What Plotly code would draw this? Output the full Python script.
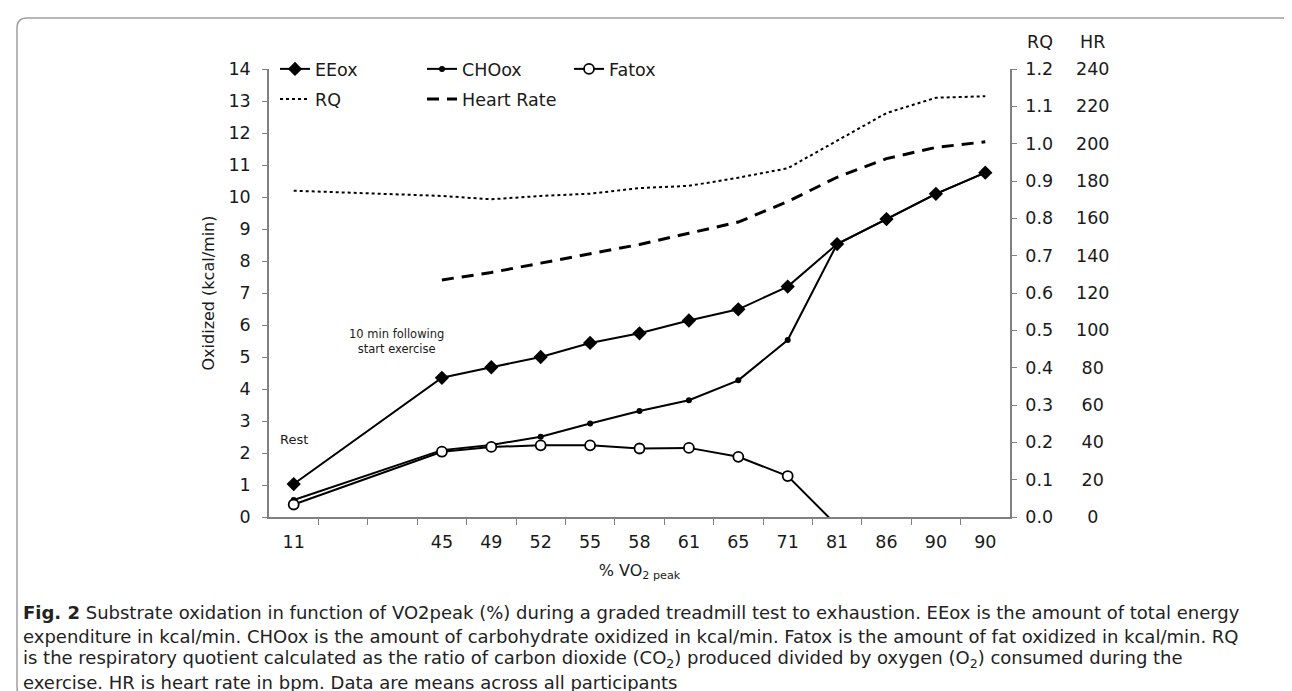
import plotly.graph_objects as go

# ---------------- data ----------------
x_labels = ["11", "45", "49", "52", "55", "58", "61", "65", "71", "81", "86", "90", "90"]
x_slots = [0, 3, 4, 5, 6, 7, 8, 9, 10, 11, 12, 13, 14]   # category slots (two empty slots after rest)
eeox = [1.03, 4.35, 4.68, 5.00, 5.44, 5.74, 6.14, 6.49, 7.20, 8.53, 9.31, 10.10, 10.76]
choox = [0.53, 2.09, 2.25, 2.51, 2.92, 3.31, 3.65, 4.27, 5.53, 8.53, 9.31, 10.10, 10.76]
fatox = [0.39, 2.04, 2.19, 2.24, 2.24, 2.14, 2.16, 1.88, 1.28, -0.27, None, None, None]
rq = [0.874, 0.860, 0.851, 0.860, 0.866, 0.881, 0.887, 0.909, 0.934, 1.007, 1.082, 1.123, 1.127]
hr = [None, 127, 131, 136, 141, 146, 152, 158, 169, 182, 192, 198, 201]

y_left_ticks = list(range(0, 15))
rq_ticks = [round(0.1 * i, 1) for i in range(13)]
hr_ticks = list(range(0, 241, 20))

caption_lines = [
    "<b>Fig. 2</b> Substrate oxidation in function of VO2peak (%) during a graded treadmill test to exhaustion. EEox is the amount of total energy",
    "expenditure in kcal/min. CHOox is the amount of carbohydrate oxidized in kcal/min. Fatox is the amount of fat oxidized in kcal/min. RQ",
    "is the respiratory quotient calculated as the ratio of carbon dioxide (CO<sub>2</sub>) produced divided by oxygen (O<sub>2</sub>) consumed during the",
    "exercise. HR is heart rate in bpm. Data are means across all participants",
]

# ---------------- geometry helpers (pixels -> paper) ----------------
W, H = 1292, 691
ML, MR, MT, MB = 261, 290, 61, 182
PW = W - ML - MR
PH = H - MT - MB


def px(xp):
    return (xp - ML) / PW


def py(yp):
    return (H - MB - yp) / PH


FONT = "DejaVu Sans"
TXT = "#1a1a1a"
AX = "#808080"

boundaries = [s + 0.5 for s in range(0, 14)]


# HR labels centred under the header: pad with figure/punctuation spaces
def hr_label(v):
    s = str(v)
    if len(s) == 1:
        return "\u2007" + s
    if len(s) == 2:
        return "\u2008" + s
    return s


fig = go.Figure()

fig.add_trace(go.Scatter(
    x=x_slots, y=eeox, name="EEox", mode="lines+markers",
    line=dict(color="black", width=2),
    marker=dict(symbol="diamond", size=11, color="black"),
    legend="legend", hoverinfo="skip"))
fig.add_trace(go.Scatter(
    x=x_slots, y=choox, name="CHOox", mode="lines+markers",
    line=dict(color="black", width=2),
    marker=dict(symbol="circle", size=6, color="black"),
    legend="legend", hoverinfo="skip"))
fig.add_trace(go.Scatter(
    x=x_slots, y=fatox, name="Fatox", mode="lines+markers",
    line=dict(color="black", width=2),
    marker=dict(symbol="circle", size=10, color="white", line=dict(color="black", width=1.8)),
    legend="legend", hoverinfo="skip", connectgaps=False))
fig.add_trace(go.Scatter(
    x=x_slots, y=rq, name="RQ", mode="lines", yaxis="y2",
    line=dict(color="black", width=2, dash="dot"),
    legend="legend2", hoverinfo="skip"))
fig.add_trace(go.Scatter(
    x=x_slots, y=hr, name="Heart Rate", mode="lines", yaxis="y3",
    line=dict(color="black", width=3, dash="12px,8px"),
    legend="legend2", hoverinfo="skip"))

tickfont = dict(family=FONT, size=17.5, color=TXT)

annotations = [
    dict(text="Rest", x=0.0, y=2.41, xref="x", yref="y", showarrow=False,
         xanchor="center", yanchor="middle",
         font=dict(family=FONT, size=13, color=TXT)),
    dict(text="10 min following<br>start exercise", x=2.08, y=5.48, xref="x", yref="y",
         showarrow=False, xanchor="center", yanchor="middle",
         font=dict(family=FONT, size=11.5, color=TXT)),
    dict(text="RQ", x=px(1032), y=py(34), xref="paper", yref="paper", showarrow=False,
         xanchor="center", yanchor="middle",
         font=dict(family=FONT, size=17.5, color=TXT)),
    dict(text="HR", x=px(1084), y=py(34), xref="paper", yref="paper", showarrow=False,
         xanchor="center", yanchor="middle",
         font=dict(family=FONT, size=17.5, color=TXT)),
]
for line, yp in zip(caption_lines, [604, 628, 651, 674]):
    annotations.append(dict(text=line, x=px(13), y=py(yp), xref="paper", yref="paper",
                            xanchor="left", yanchor="middle", showarrow=False,
                            font=dict(family=FONT, size=18, color="#222222")))

# rounded frame around the whole figure
L, R, T, B = px(9), px(1284), py(10), py(689)
dx, dy = 10 / PW, 10 / PH
frame = dict(type="path", xref="paper", yref="paper",
             path=(f"M {L},{B + dy} L {L},{T - dy} Q {L},{T} {L + dx},{T} "
                   f"L {R - dx},{T} Q {R},{T} {R},{T - dy} "
                   f"L {R},{B + dy} Q {R},{B} {R - dx},{B} "
                   f"L {L + dx},{B} Q {L},{B} {L},{B + dy} Z"),
             line=dict(color="#a0a0a0", width=1.5))

fig.update_layout(
    width=W, height=H,
    margin=dict(l=ML, r=MR, t=MT, b=MB),
    paper_bgcolor="white", plot_bgcolor="white",
    font=dict(family=FONT, color=TXT),
    xaxis=dict(range=[-0.5, 14.5], tickmode="array", tickvals=x_slots, ticktext=x_labels,
               ticks="", showline=True, linecolor=AX, linewidth=1.5, showgrid=False,
               zeroline=False, tickfont=tickfont, ticklabelstandoff=8,
               minor=dict(tickmode="array", tickvals=boundaries, ticks="outside",
                          ticklen=6, tickcolor=AX, tickwidth=1.2, showgrid=False),
               title=dict(text="% VO<sub>2 peak</sub>", standoff=14,
                          font=dict(family=FONT, size=16, color=TXT))),
    xaxis2=dict(range=[-0.5, 14.5], overlaying="x", anchor="y", side="bottom",
                tickmode="array", tickvals=boundaries, ticks="inside", ticklen=6,
                tickcolor=AX, tickwidth=1.2, showticklabels=False, showline=False,
                showgrid=False, zeroline=False),
    yaxis=dict(range=[0, 14], tickmode="array", tickvals=y_left_ticks, ticks="outside",
               ticklen=5, tickcolor=AX, tickwidth=1.2, showline=True, linecolor=AX,
               linewidth=1.5, showgrid=False, zeroline=False, tickfont=tickfont,
               ticklabelstandoff=8,
               title=dict(text="Oxidized (kcal/min)", standoff=10,
                          font=dict(family=FONT, size=16, color=TXT))),
    yaxis4=dict(range=[0, 14], overlaying="y", anchor="x", side="left", tickmode="array",
                tickvals=y_left_ticks, ticks="inside", ticklen=5, tickcolor=AX, tickwidth=1.2,
                showticklabels=False, showline=False, showgrid=False, zeroline=False),
    yaxis2=dict(range=[0, 1.2], overlaying="y", anchor="x", side="right", tickmode="array",
                tickvals=rq_ticks, ticktext=[f"{v:.1f}" for v in rq_ticks], ticks="outside",
                ticklen=5, tickcolor=AX, tickwidth=1.2, showline=True, linecolor=AX,
                linewidth=1.5, showgrid=False, zeroline=False, tickfont=tickfont,
                ticklabelstandoff=5),
    yaxis5=dict(range=[0, 1.2], overlaying="y", anchor="x", side="right", tickmode="array",
                tickvals=rq_ticks, ticks="inside", ticklen=5, tickcolor=AX, tickwidth=1.2,
                showticklabels=False, showline=False, showgrid=False, zeroline=False),
    yaxis3=dict(range=[0, 240], overlaying="y", anchor="free", side="right",
                position=1, tickmode="array", tickvals=hr_ticks,
                ticktext=[hr_label(v) for v in hr_ticks], ticks="", showline=False,
                showgrid=False, zeroline=False, tickfont=tickfont, ticklabelstandoff=65),
    legend=dict(orientation="h", x=px(267), xanchor="left", y=py(43), yanchor="top",
                entrywidth=102, entrywidthmode="pixels", bgcolor="rgba(0,0,0,0)",
                font=dict(family=FONT, size=17.5, color=TXT), traceorder="normal"),
    legend2=dict(orientation="h", x=px(267), xanchor="left", y=py(73), yanchor="top",
                 entrywidth=102, entrywidthmode="pixels", bgcolor="rgba(0,0,0,0)",
                 font=dict(family=FONT, size=17.5, color=TXT), traceorder="normal"),
    annotations=annotations,
    shapes=[frame],
    showlegend=True,
)

fig.write_html("out.html")
